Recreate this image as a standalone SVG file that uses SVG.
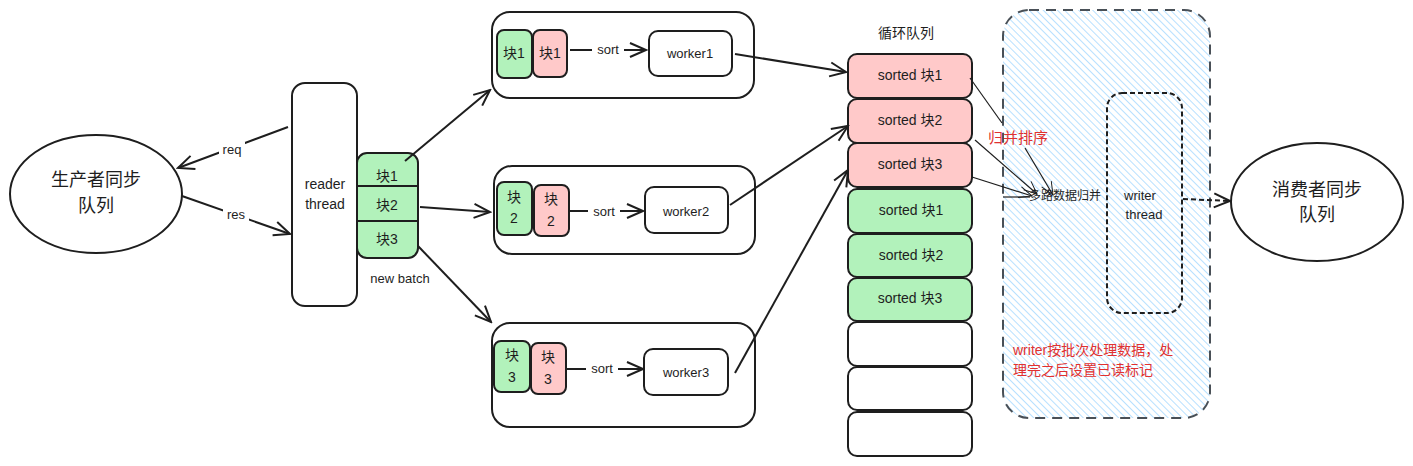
<svg xmlns="http://www.w3.org/2000/svg" width="1413" height="466" viewBox="0 0 1413 466">
<defs>
<marker id="arr" viewBox="0 0 20 20" refX="18" refY="10" markerWidth="20" markerHeight="20" markerUnits="userSpaceOnUse" orient="auto">
<polyline points="2,3 18,10 2,17" fill="none" stroke="#1e1e1e" stroke-width="2"/>
</marker>
<marker id="arrs" viewBox="0 0 20 20" refX="18" refY="10" markerWidth="16" markerHeight="16" markerUnits="userSpaceOnUse" orient="auto">
<polyline points="2,3 18,10 2,17" fill="none" stroke="#1e1e1e" stroke-width="1.2"/>
</marker>
<pattern id="hatch" patternUnits="userSpaceOnUse" width="5" height="5" patternTransform="rotate(-45)">
<rect width="5" height="5" fill="#ffffff"/>
<line x1="0" y1="0" x2="0" y2="5" stroke="#a5d8ff" stroke-width="1.6"/>
</pattern>
</defs>
<style>
.s{stroke:#1e1e1e;stroke-width:2;fill:none}
.w{stroke:#1e1e1e;stroke-width:2;fill:#ffffff}
.g{stroke:#1e1e1e;stroke-width:2;fill:#b2f2bb}
.p{stroke:#1e1e1e;stroke-width:2;fill:#ffc9c9}
.t{font-family:"Liberation Sans","Noto Sans CJK SC",sans-serif;fill:#1e1e1e;text-anchor:middle;dominant-baseline:central}
.c{stroke:#1e1e1e;stroke-width:2;fill:none;marker-end:url(#arr)}
.cs{stroke:#1e1e1e;stroke-width:1.2;fill:none;marker-end:url(#arrs)}
.ln{stroke:#1e1e1e;stroke-width:1.2;fill:none}
.bg{fill:#ffffff}
.r{font-family:"Liberation Sans","Noto Sans CJK SC",sans-serif;fill:#e03131}
</style>
<rect width="1413" height="466" fill="#ffffff"/>

<g id="writer-region">
<rect x="1003" y="10" width="207" height="408" rx="26" fill="url(#hatch)" stroke="#495057" stroke-width="2" stroke-dasharray="10 7"/>
</g>

<g id="producer">
<ellipse cx="96" cy="194" rx="86" ry="59" class="w"/>
<text class="t" x="96" y="180" font-size="18">生产者同步</text>
<text class="t" x="96" y="206" font-size="18">队列</text>
</g>

<g id="reader-thread">
<rect x="292" y="83" width="65" height="223" rx="13" class="w"/>
<text class="t" x="325" y="184" font-size="14">reader</text>
<text class="t" x="325" y="204" font-size="14">thread</text>
</g>

<g id="new-batch">
<rect x="357" y="153" width="61" height="105" rx="10" class="g"/>
<line x1="357" y1="186" x2="418" y2="186" class="s"/>
<line x1="357" y1="221" x2="418" y2="221" class="s"/>
<text class="t" x="387" y="176" font-size="14">块1</text>
<text class="t" x="387" y="205" font-size="14">块2</text>
<text class="t" x="387" y="239" font-size="14">块3</text>
<text class="t" x="400" y="278" font-size="13">new batch</text>
</g>

<g id="worker-group-1">
<rect x="492" y="12" width="262" height="86" rx="18" class="w"/>
<rect x="497" y="30" width="35" height="48" rx="7" class="g"/>
<rect x="533" y="30" width="34" height="47" rx="7" class="p"/>
<text class="t" x="514" y="53" font-size="14">块1</text>
<text class="t" x="550" y="53" font-size="14">块1</text>
<rect x="649" y="31" width="83" height="45" rx="9" class="w"/>
<text class="t" x="690" y="53" font-size="13">worker1</text>
</g>

<g id="worker-group-2">
<rect x="494" y="166" width="261" height="88" rx="18" class="w"/>
<rect x="497" y="182" width="35" height="53" rx="7" class="g"/>
<rect x="534" y="185" width="35" height="51" rx="7" class="p"/>
<text class="t" x="514" y="197" font-size="14">块</text>
<text class="t" x="514" y="218" font-size="14">2</text>
<text class="t" x="551" y="199" font-size="14">块</text>
<text class="t" x="551" y="221" font-size="14">2</text>
<rect x="645" y="187" width="83" height="46" rx="9" class="w"/>
<text class="t" x="686" y="211" font-size="13">worker2</text>
</g>

<g id="worker-group-3">
<rect x="492" y="323" width="263" height="104" rx="18" class="w"/>
<rect x="494" y="341" width="36" height="51" rx="7" class="g"/>
<rect x="531" y="343" width="35" height="51" rx="7" class="p"/>
<text class="t" x="512" y="355" font-size="14">块</text>
<text class="t" x="512" y="377" font-size="14">3</text>
<text class="t" x="548" y="357" font-size="14">块</text>
<text class="t" x="548" y="379" font-size="14">3</text>
<rect x="644" y="349" width="84" height="46" rx="9" class="w"/>
<text class="t" x="686" y="372" font-size="13">worker3</text>
</g>

<g id="ring-queue">
<text class="t" x="906" y="33" font-size="14">循环队列</text>
<rect x="848" y="54" width="124" height="44" rx="9" class="p"/>
<rect x="848" y="99" width="124" height="44" rx="9" class="p"/>
<rect x="848" y="143" width="124" height="44" rx="9" class="p"/>
<rect x="848" y="189" width="124" height="44" rx="9" class="g"/>
<rect x="848" y="234" width="124" height="43" rx="9" class="g"/>
<rect x="848" y="278" width="124" height="43" rx="9" class="g"/>
<rect x="848" y="322" width="124" height="44" rx="9" class="w"/>
<rect x="848" y="367" width="124" height="43" rx="9" class="w"/>
<rect x="848" y="412" width="124" height="44" rx="9" class="w"/>
<text class="t" x="910" y="75" font-size="14">sorted 块1</text>
<text class="t" x="910" y="120" font-size="14">sorted 块2</text>
<text class="t" x="910" y="164" font-size="14">sorted 块3</text>
<text class="t" x="911" y="210" font-size="14">sorted 块1</text>
<text class="t" x="911" y="255" font-size="14">sorted 块2</text>
<text class="t" x="910" y="298" font-size="14">sorted 块3</text>
</g>

<g id="writer-thread">
<rect x="1107" y="93" width="75" height="220" rx="15" fill="none" stroke="#1e1e1e" stroke-width="2" stroke-dasharray="5 3"/>
<text class="t" x="1140" y="195" font-size="13">writer</text>
<text class="t" x="1144" y="214" font-size="13">thread</text>
</g>

<g id="consumer">
<ellipse cx="1317" cy="202" rx="86" ry="59" class="w"/>
<text class="t" x="1317" y="190" font-size="18">消费者同步</text>
<text class="t" x="1317" y="215" font-size="18">队列</text>
</g>

<g id="connectors">
<line x1="288" y1="127" x2="178" y2="168" class="c"/>
<rect x="219" y="142" width="26" height="14" class="bg"/>
<text class="t" x="232" y="149" font-size="13">req</text>
<line x1="182" y1="196" x2="290" y2="234" class="c"/>
<rect x="223" y="207" width="26" height="14" class="bg"/>
<text class="t" x="236" y="214" font-size="13">res</text>
<line x1="405" y1="161" x2="490" y2="90" class="c"/>
<line x1="420" y1="207" x2="490" y2="212" class="c"/>
<line x1="418" y1="246" x2="491" y2="322" class="c"/>
<line x1="570" y1="50" x2="646" y2="50" class="c"/>
<rect x="592" y="42" width="32" height="14" class="bg"/>
<text class="t" x="608" y="49" font-size="13">sort</text>
<line x1="570" y1="211" x2="643" y2="211" class="c"/>
<rect x="588" y="203" width="32" height="14" class="bg"/>
<text class="t" x="604" y="211" font-size="13">sort</text>
<line x1="567" y1="369" x2="643" y2="369" class="c"/>
<rect x="586" y="361" width="32" height="14" class="bg"/>
<text class="t" x="602" y="368" font-size="13">sort</text>
<line x1="735" y1="54" x2="846" y2="72" class="c"/>
<line x1="730" y1="205" x2="848" y2="126" class="c"/>
<line x1="735" y1="373" x2="848" y2="170" class="c"/>
<line x1="970" y1="78" x2="1002" y2="123" class="ln"/>
<line x1="1025" y1="148" x2="1053" y2="195" class="cs"/>
<line x1="975" y1="140" x2="1037" y2="194" class="cs"/>
<line x1="972" y1="177" x2="1032" y2="196" class="cs"/>
<line x1="1003" y1="197" x2="1030" y2="197" class="ln"/>
<line x1="1183" y1="199" x2="1230" y2="201" class="c" stroke-dasharray="5 3"/>
</g>

<g id="labels">
<text class="r" x="1018" y="137" font-size="15" text-anchor="middle" dominant-baseline="central">归并排序</text>
<text class="t" x="1065" y="196" font-size="12">多路数据归并</text>
<text class="r" x="1013" y="350" font-size="14" dominant-baseline="central">writer按批次处理数据，处</text>
<text class="r" x="1013" y="370" font-size="14" dominant-baseline="central">理完之后设置已读标记</text>
</g>
</svg>
